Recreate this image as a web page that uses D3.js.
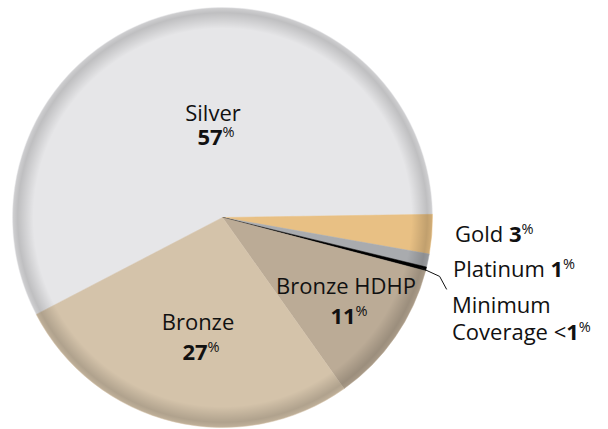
<!DOCTYPE html>
<html>
<head>
<meta charset="utf-8">
<script src="https://cdn.jsdelivr.net/npm/d3@7"></script>
<style>
  html, body { margin: 0; padding: 0; background: #ffffff; }
  svg { display: block; }
  text { font-family: "Open Sans", "Noto Sans", sans-serif; fill: #111; }
</style>
</head>
<body>
<svg id="chart" width="608" height="429"></svg>
<script>
// Metal-level shares of plan selections (percent)
const categories = ["Silver", "Gold", "Platinum", "Minimum Coverage", "Bronze HDHP", "Bronze"];
const shares     = [57, 3, 1, 0.3, 11, 27];
const shareText  = ["57", "3", "1", "1", "11", "27"];
const prefixText = ["", "", "", "<", "", ""];
const colors     = ["#e6e6e8", "#e8c084", "#a9abae", "#000000", "#bbab96", "#d4c3aa"];

const svg = d3.select("#chart");
const cx = 222.5, cy = 217.5, R = 210;

const data = categories.map((c, i) => ({
  name: c, value: shares[i], pct: shareText[i], prefix: prefixText[i], color: colors[i]
}));

const start = -117.5 * Math.PI / 180;
const pie = d3.pie().sort(null).value(d => d.value)
  .startAngle(start).endAngle(start + 2 * Math.PI);
const arcs = pie(data);
const arc = d3.arc().innerRadius(0).outerRadius(R);

// Rim shading (gradient centred on the pie's own origin)
const defs = svg.append("defs");
const rg = defs.append("radialGradient").attr("id", "rim")
  .attr("gradientUnits", "userSpaceOnUse")
  .attr("cx", 0).attr("cy", 0).attr("r", R);
rg.append("stop").attr("offset", 0.90).attr("stop-color", "#000").attr("stop-opacity", 0);
rg.append("stop").attr("offset", 0.975).attr("stop-color", "#000").attr("stop-opacity", 0.17);
rg.append("stop").attr("offset", 0.995).attr("stop-color", "#000").attr("stop-opacity", 0.11);
rg.append("stop").attr("offset", 1).attr("stop-color", "#000").attr("stop-opacity", 0.04);

const g = svg.append("g").attr("transform", `translate(${cx},${cy})`);

g.selectAll("path.slice")
  .data(arcs)
  .join("path")
  .attr("class", "slice")
  .attr("d", arc)
  .attr("fill", d => d.data.color)
  .attr("stroke", d => d.data.color)
  .attr("stroke-width", 0.5);

g.append("circle").attr("r", R).attr("fill", "url(#rim)");

// Label text with a bold number and a small raised "%"
function valueLabel(sel, x, y, anchor, parts, size) {
  const t = sel.append("text")
    .attr("x", x).attr("y", y)
    .attr("text-anchor", anchor)
    .style("font-size", size + "px");
  parts.forEach(p => {
    const ts = t.append("tspan").text(p.text);
    if (p.bold) ts.style("font-weight", 700);
    if (p.sup) ts.style("font-size", (size * 0.66) + "px").attr("dy", -size * 0.36);
  });
  return t;
}

const byName = Object.fromEntries(data.map(d => [d.name, d]));

// In-slice labels
const inside = [
  { name: "Silver",      x: 213, y1: 121, y2: 145 },
  { name: "Bronze",      x: 198, y1: 330, y2: 360 },
  { name: "Bronze HDHP", x: 346, y1: 294, y2: 324 }
];
inside.forEach(l => {
  const d = byName[l.name];
  svg.append("text").attr("x", l.x).attr("y", l.y1).attr("text-anchor", "middle")
    .style("font-size", "22px").text(d.name);
  valueLabel(svg, l.x + 3, l.y2, "middle",
    [{ text: d.pct, bold: true }, { text: "%", sup: true }], 22);
});

// Outside labels
const gold = byName["Gold"], plat = byName["Platinum"], minc = byName["Minimum Coverage"];
valueLabel(svg, 455, 242, "start",
  [{ text: gold.name + " " }, { text: gold.pct, bold: true }, { text: "%", sup: true }], 22);
valueLabel(svg, 453, 277, "start",
  [{ text: plat.name + " " }, { text: plat.pct, bold: true }, { text: "%", sup: true }], 22);
svg.append("text").attr("x", 452).attr("y", 313).style("font-size", "22px").text("Minimum");
valueLabel(svg, 452, 340, "start",
  [{ text: "Coverage " + minc.prefix }, { text: minc.pct, bold: true }, { text: "%", sup: true }], 22);

// Leader line for the thin minimum-coverage wedge
const mArc = arcs[categories.indexOf("Minimum Coverage")];
const mid = (mArc.startAngle + mArc.endAngle) / 2;
const pt = r => [cx + r * Math.sin(mid), cy - r * Math.cos(mid)];
const p0 = pt(R - 6), e = pt(R + 14);
const p1 = [e[0], e[1] + 4];
svg.append("path")
  .attr("d", d3.line()([p0, p1, [p1[0] + 7, p1[1] + 13]]))
  .attr("fill", "none").attr("stroke", "#111").attr("stroke-width", 1);
</script>
</body>
</html>
